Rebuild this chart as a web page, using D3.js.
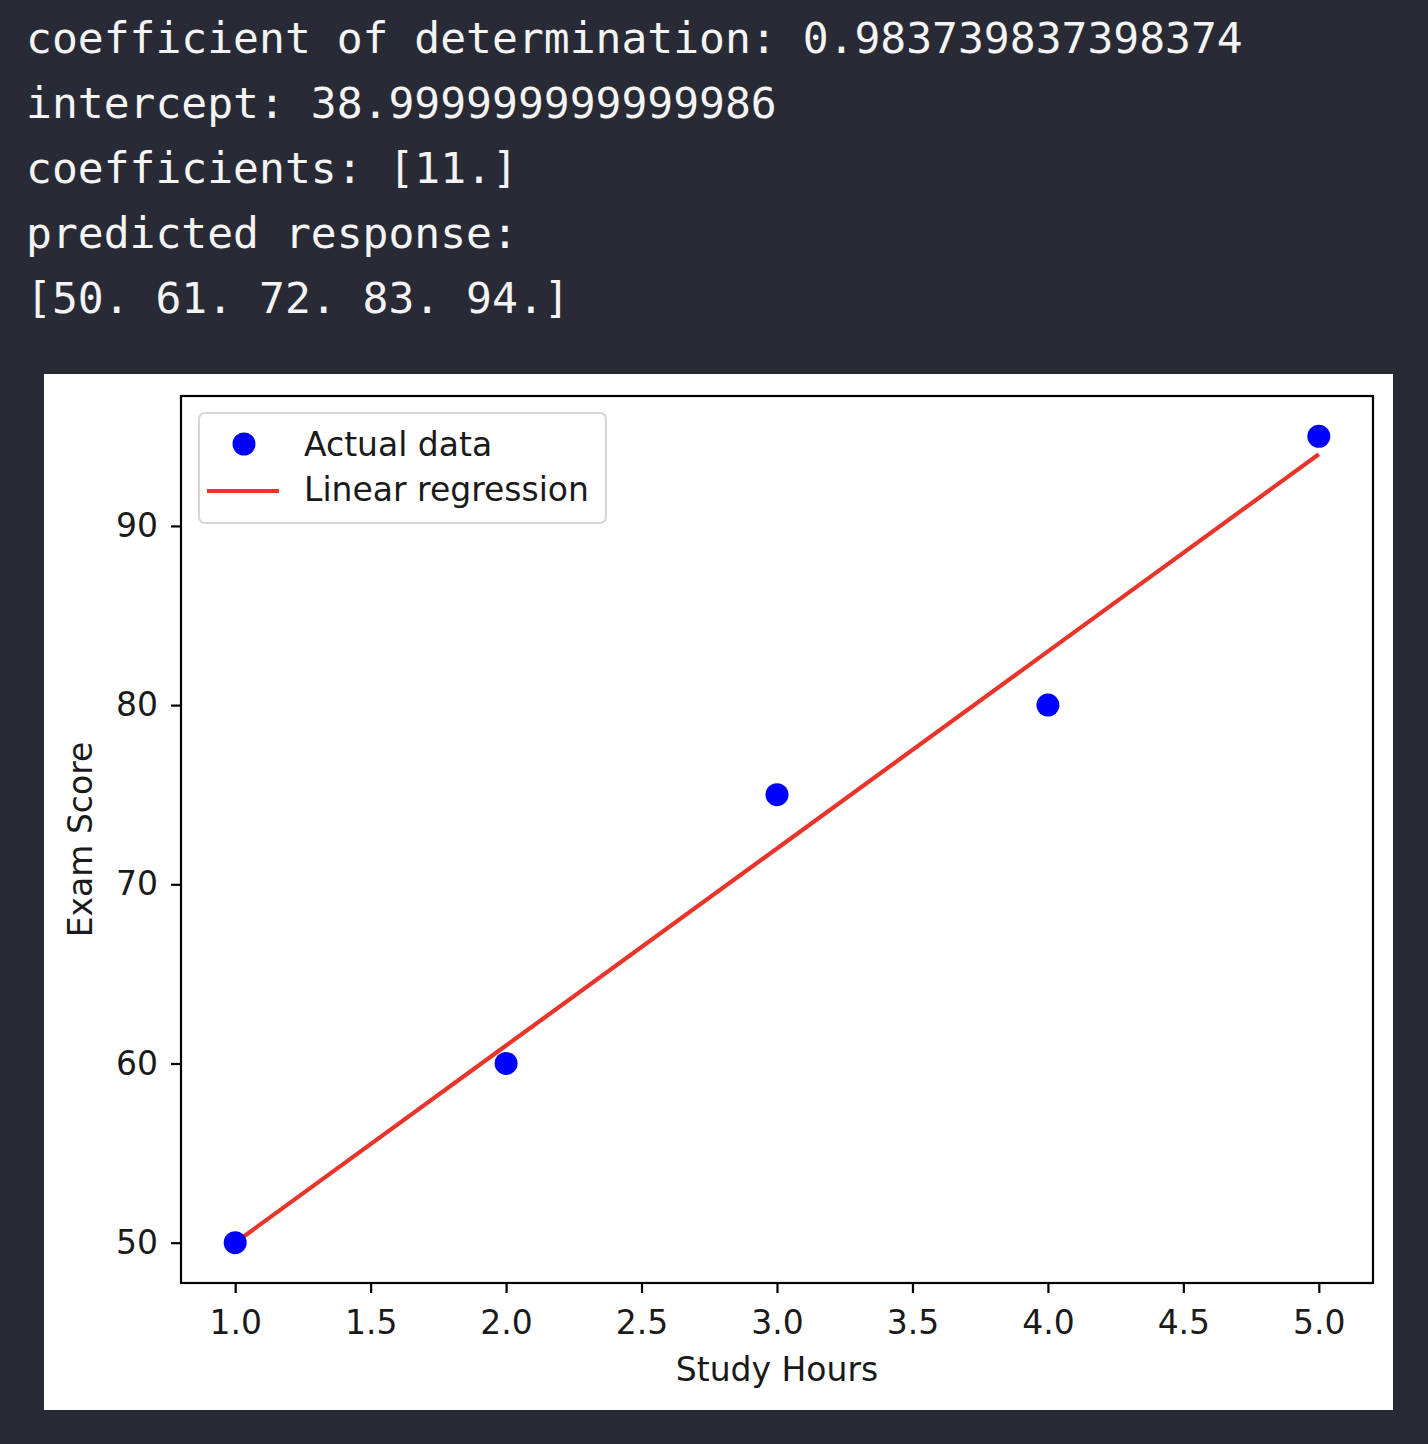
<!DOCTYPE html>
<html>
<head>
<meta charset="utf-8">
<script src="https://cdn.jsdelivr.net/npm/d3@7"></script>
<style>
  html, body { margin: 0; padding: 0; background: #282b35; }
  svg { display: block; }
</style>
</head>
<body>
<svg id="chart" width="1428" height="1444"></svg>
<script>
const consoleLines = [
  "coefficient of determination: 0.983739837398374",
  "intercept: 38.999999999999986",
  "coefficients: [11.]",
  "predicted response:",
  "[50. 61. 72. 83. 94.]"
];
const hours = [1, 2, 3, 4, 5];
const scores = [50, 60, 75, 80, 95];
const predicted = [50, 61, 72, 83, 94];
const xTicks = [1.0, 1.5, 2.0, 2.5, 3.0, 3.5, 4.0, 4.5, 5.0];
const yTicks = [50, 60, 70, 80, 90];
const legendLabels = ["Actual data", "Linear regression"];

const svg = d3.select("#chart");
svg.append("rect").attr("width", 1428).attr("height", 1444).attr("fill", "#282b35");

// console text
svg.append("g").selectAll("text").data(consoleLines).join("text")
  .attr("x", 26).attr("y", (d, i) => 53 + i * 65)
  .attr("fill", "#f4f4f4")
  .attr("font-family", "DejaVu Sans Mono, monospace")
  .attr("font-size", 43)
  .attr("xml:space", "preserve")
  .text(d => d);

// figure background
svg.append("rect").attr("x", 44).attr("y", 374).attr("width", 1349).attr("height", 1036).attr("fill", "#ffffff");

const L = 181, R = 1373, T = 396, B = 1283;
const x = d3.scaleLinear().domain([0.8, 5.2]).range([L, R]);
const y = d3.scaleLinear().domain([47.75, 97.25]).range([B, T]);

const font = "DejaVu Sans, sans-serif";
const fs = 33;
const textColor = "#1a1a1a";

const g = svg.append("g");

// regression line
g.append("path")
  .datum(hours.map((h, i) => [h, predicted[i]]))
  .attr("d", d3.line().x(d => x(d[0])).y(d => y(d[1])))
  .attr("fill", "none").attr("stroke", "#e8352a").attr("stroke-width", 4.2);

// points
g.selectAll("circle.pt").data(hours.map((h, i) => [h, scores[i]])).join("circle")
  .attr("class", "pt")
  .attr("cx", d => x(d[0])).attr("cy", d => y(d[1])).attr("r", 11.5)
  .attr("fill", "#0000ff");

// axes
const xAxis = d3.axisBottom(x).tickValues(xTicks).tickFormat(d3.format(".1f")).tickSize(10).tickPadding(18);
const yAxis = d3.axisLeft(y).tickValues(yTicks).tickFormat(d3.format("d")).tickSize(10).tickPadding(13);

const gx = svg.append("g").attr("transform", `translate(0,${B})`).call(xAxis);
const gy = svg.append("g").attr("transform", `translate(${L},0)`).call(yAxis);
[gx, gy].forEach(a => {
  a.select(".domain").remove();
  a.selectAll(".tick line").attr("stroke", "#000").attr("stroke-width", 2.2);
  a.selectAll(".tick text").attr("font-family", font).attr("font-size", fs).attr("fill", textColor);
});

// frame
svg.append("rect").attr("x", L).attr("y", T).attr("width", R - L).attr("height", B - T)
  .attr("fill", "none").attr("stroke", "#000").attr("stroke-width", 2.2);

// axis labels
svg.append("text").attr("x", (L + R) / 2).attr("y", 1381).attr("text-anchor", "middle")
  .attr("font-family", font).attr("font-size", fs).attr("fill", textColor).text("Study Hours");
svg.append("text").attr("transform", `translate(92,${(T + B) / 2}) rotate(-90)`).attr("text-anchor", "middle")
  .attr("font-family", font).attr("font-size", fs).attr("fill", textColor).text("Exam Score");

// legend
const lg = svg.append("g");
lg.append("rect").attr("x", 199).attr("y", 413).attr("width", 407).attr("height", 110).attr("rx", 6)
  .attr("fill", "#ffffff").attr("fill-opacity", 0.8).attr("stroke", "#d6d6d6").attr("stroke-width", 2);
lg.append("circle").attr("cx", 244).attr("cy", 444).attr("r", 11.5).attr("fill", "#0000ff");
lg.append("line").attr("x1", 207).attr("x2", 279).attr("y1", 491).attr("y2", 491)
  .attr("stroke", "#e8352a").attr("stroke-width", 4.2);
lg.selectAll("text").data(legendLabels).join("text")
  .attr("x", 304).attr("y", (d, i) => 456 + i * 45)
  .attr("font-family", font).attr("font-size", fs).attr("fill", textColor).text(d => d);
</script>
</body>
</html>
